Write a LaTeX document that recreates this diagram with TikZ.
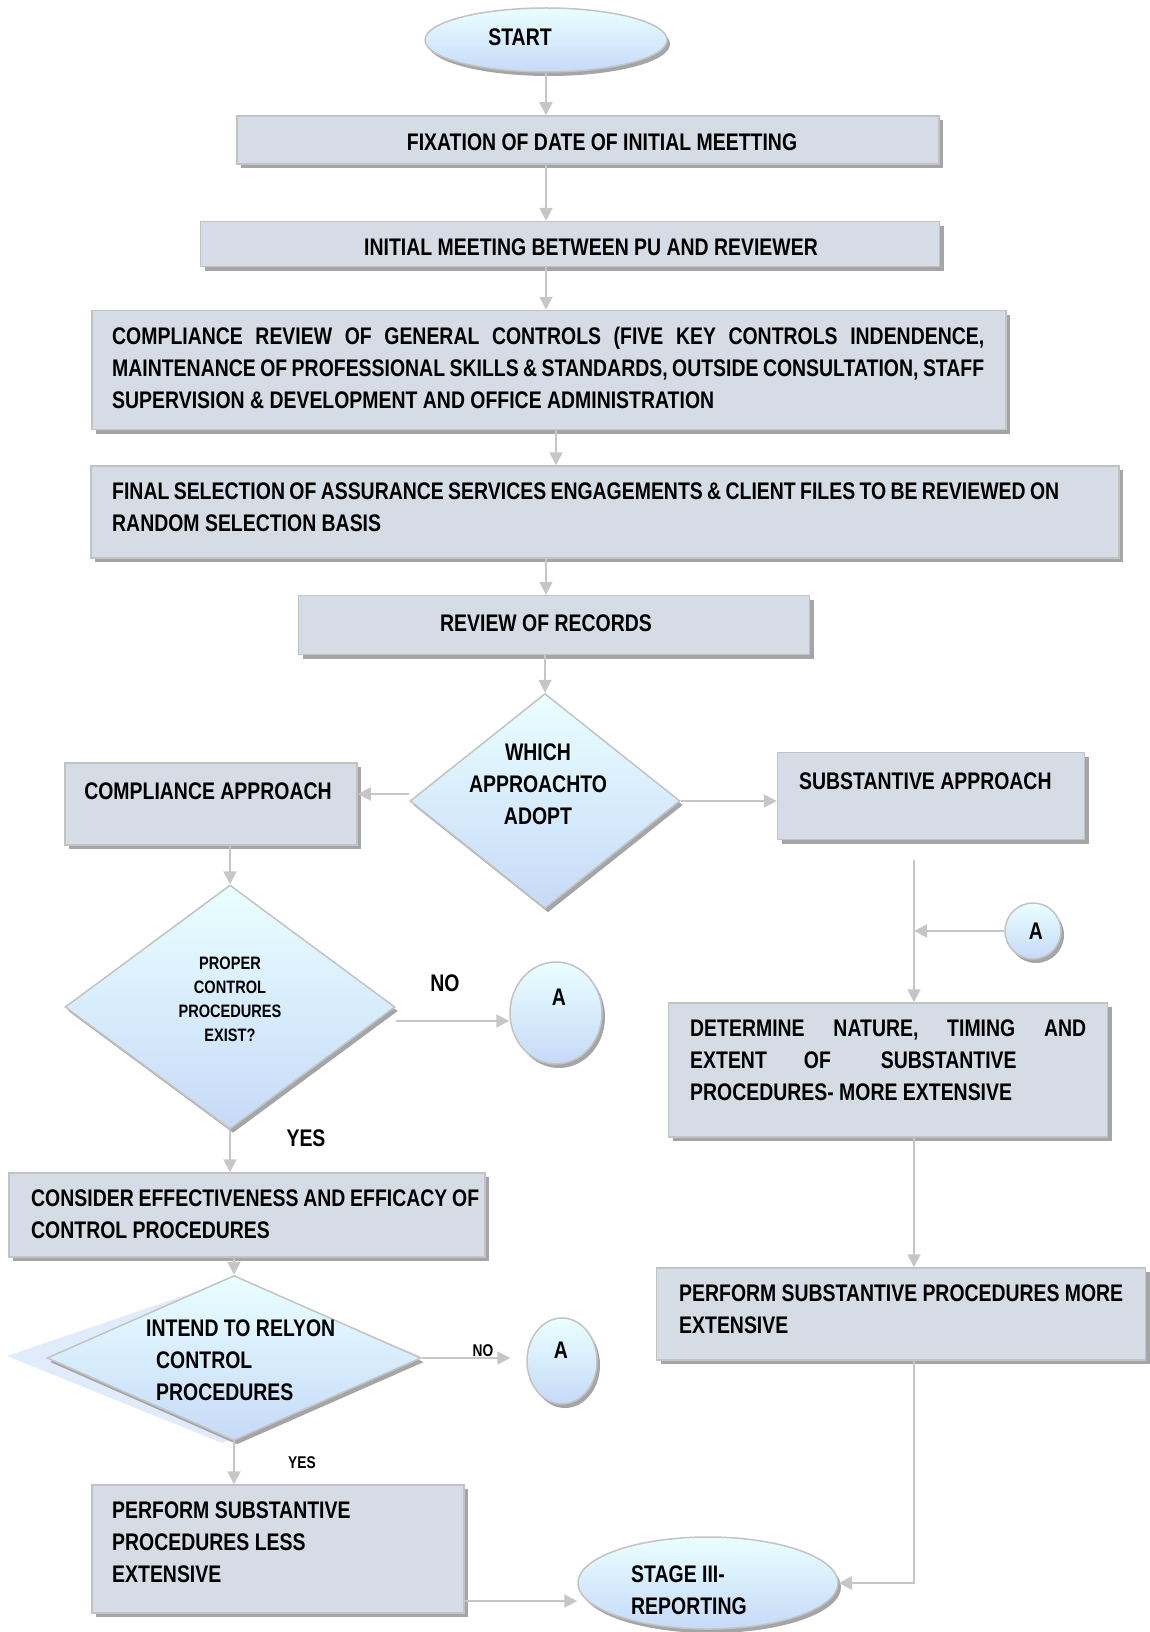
\documentclass[tikz,border=0pt]{standalone}
\usepackage{fontspec}
\setmainfont{Liberation Sans}[FakeStretch=0.81]
\usetikzlibrary{shapes.geometric,shadows,arrows.meta}
\definecolor{boxfill}{HTML}{D6DCE5}
\definecolor{boxline}{HTML}{C3C3C3}
\definecolor{shadowgray}{HTML}{A5A5A5}
\definecolor{lighttop}{HTML}{E9FFFF}
\definecolor{lightbot}{HTML}{C6DAF8}
\definecolor{arrowgray}{HTML}{C6C6C6}
\newcommand\jline[2]{\makebox[#1pt][s]{#2}}

\begin{document}
\begin{tikzpicture}[x=1pt,y=-1pt,
	box/.style={rectangle, draw=boxline, line width=1.5pt, fill=boxfill, inner sep=0pt,
		general shadow={fill=shadowgray, shadow xshift=4pt, shadow yshift=-4pt}},
	blob/.style={draw=boxline, line width=1.5pt, top color=lighttop, bottom color=lightbot, inner sep=0pt,
		general shadow={fill=shadowgray, shadow xshift=3pt, shadow yshift=-4pt}},
	oval/.style={blob, ellipse},
	decide/.style={blob, diamond},
	ghost/.style={fill=lightbot!55!white},
	txt/.style={font=\bfseries\fontsize{24}{32}\selectfont, inner sep=0pt, align=left},
	small/.style={font=\bfseries\fontsize{18}{24}\selectfont, inner sep=0pt, align=center},
	note/.style={font=\bfseries\fontsize{17}{20}\selectfont, inner sep=0pt},
	flow/.style={draw=arrowgray, line width=2pt, -{Triangle[length=13pt,width=13pt]}},
]
	\useasboundingbox (0,0) rectangle (1150,1632);

	% main column
	\node[oval, minimum width=242pt, minimum height=64pt] (start) at (546,40) {};
	\node[txt] (starttext) at (520,37) {START};

	\node[box, minimum width=702pt, minimum height=48pt] (fix) at (588,140) {};
	\node[txt] (fixtext) at (602,142) {FIXATION OF DATE OF INITIAL MEETTING};

	\node[box, minimum width=739pt, minimum height=45pt] (init) at (570,244) {};
	\node[txt] (inittext) at (591,247) {INITIAL MEETING BETWEEN PU AND REVIEWER};

	\node[box, minimum width=914pt, minimum height=119pt] (gen) at (549,370) {};
	\node[txt, anchor=west] (gentext) at (112,368) {\jline{872}{COMPLIANCE REVIEW OF GENERAL CONTROLS (FIVE KEY CONTROLS INDENDENCE,}\\
		\jline{872}{MAINTENANCE OF PROFESSIONAL SKILLS \& STANDARDS, OUTSIDE CONSULTATION, STAFF}\\
		SUPERVISION \& DEVELOPMENT AND OFFICE ADMINISTRATION};

	\node[box, minimum width=1028pt, minimum height=92pt] (sel) at (605,512) {};
	\node[txt, anchor=west] (seltext) at (112,507) {\jline{947}{FINAL SELECTION OF ASSURANCE SERVICES ENGAGEMENTS \& CLIENT FILES TO BE REVIEWED ON}\\
		RANDOM SELECTION BASIS};

	\node[box, minimum width=511pt, minimum height=59pt] (rec) at (554,625) {};
	\node[txt] (rectext) at (546,623) {REVIEW OF RECORDS};

	\node[decide, minimum width=270pt, minimum height=215pt] (which) at (545,801) {};
	\node[txt, align=center] (whichtext) at (538,784) {WHICH\\APPROACHTO\\ADOPT};

	% compliance side
	\node[box, minimum width=292pt, minimum height=82pt] (comp) at (211,804) {};
	\node[txt] (comptext) at (208,791) {COMPLIANCE APPROACH};

	\node[decide, minimum width=330pt, minimum height=244pt] (proper) at (230,1007) {};
	\node[small] (propertext) at (230,999) {PROPER\\CONTROL\\PROCEDURES\\EXIST?};

	\node[oval, minimum width=92pt, minimum height=102pt] (conA1) at (556,1013) {};
	\node[txt] (conA1text) at (559,997) {A};
	\node[txt] (no1) at (445,983) {NO};
	\node[txt] (yes1) at (306,1138) {YES};

	\node[box, minimum width=476pt, minimum height=84pt] (cons) at (247,1215) {};
	\node[txt, anchor=west] (constext) at (31,1214) {\jline{448}{CONSIDER EFFECTIVENESS AND EFFICACY OF}\\CONTROL PROCEDURES};

	\fill[ghost] (7,1356) -- (230,1280) -- (421,1356) -- (222,1443) -- cycle;
	\node[decide, minimum width=374pt, minimum height=165pt] (intend) at (234,1358) {};
	\node[txt, anchor=west] (intendtext) at (146,1360) {INTEND TO RELYON\\\hspace*{10pt}CONTROL\\\hspace*{10pt}PROCEDURES};

	\node[oval, minimum width=70pt, minimum height=86pt] (conA2) at (562,1361) {};
	\node[txt] (conA2text) at (561,1350) {A};
	\node[note] (no2) at (483,1351) {NO};
	\node[note] (yes2) at (302,1463) {YES};

	\node[box, minimum width=372pt, minimum height=128pt] (less) at (278,1549) {};
	\node[txt, anchor=west] (lesstext) at (112,1542) {PERFORM SUBSTANTIVE\\PROCEDURES LESS\\EXTENSIVE};

	\node[oval, minimum width=260pt, minimum height=92pt] (stage) at (708,1583) {};
	\node[txt, anchor=west] (stagetext) at (631,1590) {STAGE III-\\REPORTING};

	% substantive side
	\node[box, minimum width=307pt, minimum height=87pt] (subst) at (931,796) {};
	\node[txt, anchor=west] (substtext) at (799,781) {SUBSTANTIVE APPROACH};

	\coordinate (rtop) at (914,860);
	\node[oval, minimum width=56pt, minimum height=56pt] (conA3) at (1033,931) {};
	\node[txt] (conA3text) at (1036,931) {A};

	\node[box, minimum width=439pt, minimum height=134pt] (det) at (888,1070) {};
	\node[txt, anchor=west] (dettext) at (690,1060) {\jline{396}{DETERMINE NATURE, TIMING AND}\\
		EXTENT\hspace{37pt}OF\hspace{50pt}SUBSTANTIVE\\PROCEDURES- MORE EXTENSIVE};

	\node[box, minimum width=489pt, minimum height=92pt] (more) at (901,1314) {};
	\node[txt, anchor=west] (moretext) at (679,1309) {\jline{444}{PERFORM SUBSTANTIVE PROCEDURES MORE}\\EXTENSIVE};

	% connectors
	\draw[flow] (start.south) -- (start.south |- fix.north);
	\draw[flow] (start |- fix.south) -- (start |- init.north);
	\draw[flow] (start |- init.south) -- (start |- gen.north);
	\draw[flow] ([xshift=7pt]gen.south) -- ([xshift=7pt]gen.south |- sel.north);
	\draw[flow] (start |- sel.south) -- (start |- rec.north);
	\draw[flow] (which.north |- rec.south) -- (which.north);
	\draw[flow] ([yshift=7pt]which.west) -- ([yshift=7pt]which.west -| comp.east);
	\draw[flow] (which.east) -- (which.east -| subst.west);
	\draw[flow] (proper.north |- comp.south) -- (proper.north);
	\draw[flow] ([yshift=-14pt]proper.east) -- ([yshift=-14pt]proper.east -| conA1.west);
	\draw[flow] (proper.south) -- (proper.south |- cons.north);
	\draw[flow] (intend.north |- cons.south) -- (intend.north);
	\draw[flow] (intend.east) -- ([xshift=-16pt]intend.east -| conA2.west);
	\draw[flow] (intend.south) -- (intend.south |- less.north);
	\draw[flow] ([yshift=-18pt]less.east |- stage.west) -- ([yshift=-18pt]stage.west);
	\draw[flow] (rtop) -- (rtop |- det.north);
	\draw[flow] (conA3.west) -- (conA3.west -| rtop);
	\draw[flow] (rtop |- det.south) -- (rtop |- more.north);
	\draw[flow] (rtop |- more.south) |- (stage.east);
\end{tikzpicture}
\end{document}
